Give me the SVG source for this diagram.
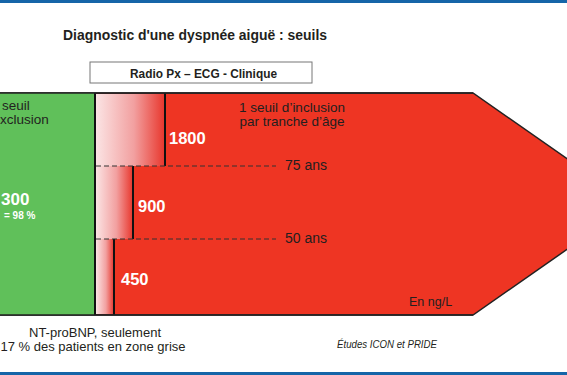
<svg xmlns="http://www.w3.org/2000/svg" width="567" height="375" viewBox="0 0 567 375">
<defs>
<linearGradient id="fade" x1="0" y1="0" x2="1" y2="0">
<stop offset="0" stop-color="#fbe4e4"/>
<stop offset="0.55" stop-color="#f2a0a0"/>
<stop offset="1" stop-color="#e8352b"/>
</linearGradient>
<style>
.t{font-family:"Liberation Sans",Arial,sans-serif;fill:#231f20}
.b{font-weight:bold}
.w{fill:#ffffff;font-weight:bold}
.edge{stroke:#111;stroke-width:2;fill:none}
.dash{stroke:#333;stroke-width:1;stroke-dasharray:5 3;fill:none}
</style>
</defs>
<rect x="0" y="0" width="567" height="3" fill="#1565a8"/>
<rect x="0" y="372" width="567" height="3" fill="#1565a8"/>

<g id="title">
<text class="t b" x="195" y="40" font-size="14.5" text-anchor="middle" textLength="264" lengthAdjust="spacingAndGlyphs">Diagnostic d'une dyspnée aiguë : seuils</text>
</g>

<g id="box">
<rect x="90" y="62" width="222" height="21" fill="#fff" stroke="#777" stroke-width="1"/>
<text class="t b" x="203.5" y="77.5" font-size="12" text-anchor="middle" textLength="147" lengthAdjust="spacingAndGlyphs">Radio Px – ECG - Clinique</text>
</g>

<g id="red-zone">
<polygon points="0,93 473,93 632,204 473,315 0,315" fill="#ee3523" stroke="#222" stroke-width="1.5"/>
<text class="t" x="292" y="111.5" font-size="13.5" text-anchor="middle">1 seuil d’inclusion</text>
<text class="t" x="292" y="125.5" font-size="13.5" text-anchor="middle">par tranche d’âge</text>
<text class="t" x="409" y="306" font-size="12.5">En ng/L</text>
</g>

<g id="green-zone">
<rect x="0" y="93" width="95" height="222" fill="#60c05a"/>
<text class="t" x="2" y="110" font-size="13.5">seuil</text>
<text class="t" x="0" y="124" font-size="13.5">xclusion</text>
<text class="t w" x="1" y="205" font-size="17">300</text>
<text class="t w" x="4" y="219" font-size="10">= 98 %</text>
</g>

<g id="row-75">
<rect x="96" y="94" width="69" height="72" fill="url(#fade)"/>
<line class="edge" x1="165" y1="93" x2="165" y2="166"/>
<text class="t w" x="169" y="144" font-size="16.5">1800</text>
</g>

<g id="row-50-75">
<rect x="96" y="166" width="37" height="73" fill="url(#fade)"/>
<line class="edge" x1="133" y1="166" x2="133" y2="239"/>
<text class="t w" x="138" y="212" font-size="16.5">900</text>
</g>

<g id="row-50">
<rect x="96" y="239" width="18" height="75" fill="url(#fade)"/>
<line class="edge" x1="114" y1="239" x2="114" y2="315"/>
<text class="t w" x="121" y="285" font-size="16.5">450</text>
</g>

<g id="connectors">
<line class="edge" x1="95" y1="93" x2="95" y2="315"/>
<line class="dash" x1="96" y1="166" x2="276" y2="166"/>
<line class="dash" x1="96" y1="239" x2="276" y2="239"/>
<line x1="0" y1="93" x2="473" y2="93" stroke="#222" stroke-width="1.5"/>
<line x1="0" y1="315" x2="473" y2="315" stroke="#222" stroke-width="1.5"/>
</g>

<g id="age-labels">
<text class="t" x="285" y="170" font-size="14">75 ans</text>
<text class="t" x="285" y="243" font-size="14">50 ans</text>
</g>

<g id="footer">
<text class="t" x="95" y="337" font-size="13" text-anchor="middle">NT-proBNP, seulement</text>
<text class="t" x="93" y="351" font-size="13" text-anchor="middle">17 % des patients en zone grise</text>
<text class="t" x="387" y="348" font-size="10.5" font-style="italic" text-anchor="middle" textLength="100" lengthAdjust="spacingAndGlyphs">Études ICON et PRIDE</text>
</g>
</svg>
